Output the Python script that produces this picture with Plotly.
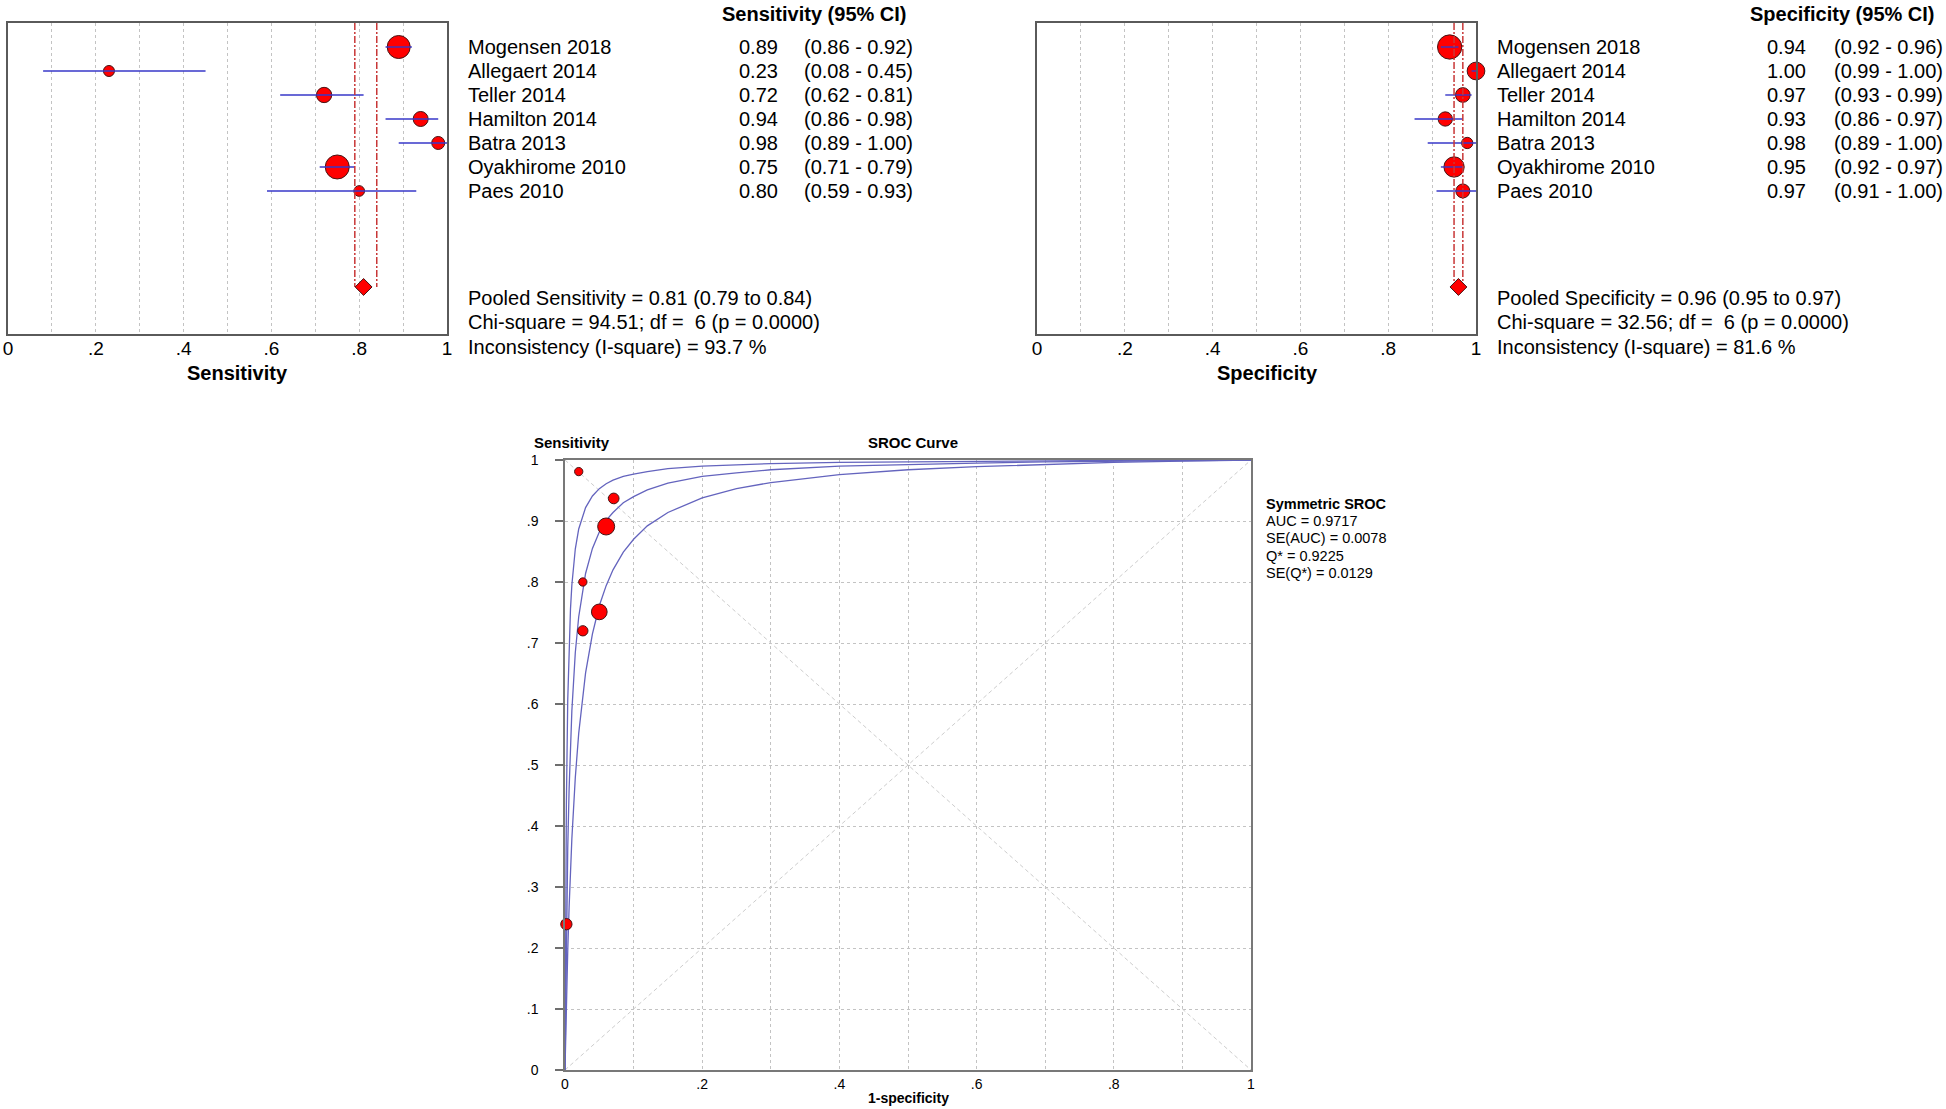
import plotly.graph_objects as go

# ---------------- data ----------------
studies = ["Mogensen 2018", "Allegaert 2014", "Teller 2014", "Hamilton 2014",
           "Batra 2013", "Oyakhirome 2010", "Paes 2010"]

sens = [0.89, 0.23, 0.72, 0.94, 0.98, 0.75, 0.80]
sens_lo = [0.86, 0.08, 0.62, 0.86, 0.89, 0.71, 0.59]
sens_hi = [0.92, 0.45, 0.81, 0.98, 1.00, 0.79, 0.93]

spec = [0.94, 1.00, 0.97, 0.93, 0.98, 0.95, 0.97]
spec_lo = [0.92, 0.99, 0.93, 0.86, 0.89, 0.92, 0.91]
spec_hi = [0.96, 1.00, 0.99, 0.97, 1.00, 0.97, 1.00]

pooled_sens = [0.81, 0.79, 0.84]          # estimate, lower, upper
pooled_spec = [0.96, 0.95, 0.97]
sens_stats = ["Pooled Sensitivity = 0.81 (0.79 to 0.84)",
              "Chi-square = 94.51; df =\u00a0 6 (p = 0.0000)",
              "Inconsistency (I-square) = 93.7 %"]
spec_stats = ["Pooled Specificity = 0.96 (0.95 to 0.97)",
              "Chi-square = 32.56; df =\u00a0 6 (p = 0.0000)",
              "Inconsistency (I-square) = 81.6 %"]

# SROC study points (1-specificity, sensitivity), continuity-corrected as plotted
sroc_fpr = [0.060, 0.002, 0.026, 0.071, 0.020, 0.050, 0.026]
sroc_tpr = [0.891, 0.239, 0.720, 0.937, 0.981, 0.751, 0.800]

# SROC curves
curve_fpr = [0, 0.001, 0.002, 0.004, 0.006, 0.008, 0.01, 0.015, 0.02, 0.03, 0.04, 0.05,
             0.06, 0.07, 0.085, 0.1, 0.12, 0.15, 0.2, 0.25, 0.3, 0.4, 0.5, 0.6, 0.7,
             0.8, 0.9, 1.0]
curve_mid = [0, 0.124, 0.221, 0.363, 0.461, 0.534, 0.589, 0.684, 0.743, 0.814, 0.855,
             0.882, 0.901, 0.914, 0.930, 0.940, 0.951, 0.962, 0.973, 0.979, 0.984,
             0.990, 0.993, 0.995, 0.997, 0.998, 0.999, 1.0]
curve_upper = [0, 0.278, 0.435, 0.607, 0.699, 0.756, 0.795, 0.854, 0.887, 0.922, 0.941,
               0.953, 0.961, 0.967, 0.973, 0.977, 0.981, 0.986, 0.990, 0.992, 0.994,
               0.996, 0.997, 0.998, 0.999, 0.9993, 0.9997, 1.0]
curve_lower = [0, 0.057, 0.108, 0.195, 0.267, 0.327, 0.379, 0.479, 0.552, 0.651, 0.715,
               0.761, 0.794, 0.820, 0.849, 0.870, 0.892, 0.914, 0.938, 0.953, 0.963,
               0.976, 0.984, 0.989, 0.993, 0.996, 0.998, 1.0]

sroc_stats_title = "Symmetric SROC"
sroc_stats = ["AUC = 0.9717", "SE(AUC) = 0.0078", "Q* = 0.9225", "SE(Q*) = 0.0129"]

forest_ticks = [0, 0.1, 0.2, 0.3, 0.4, 0.5, 0.6, 0.7, 0.8, 0.9, 1.0]
forest_ticktext = ["0", "", ".2", "", ".4", "", ".6", "", ".8", "", "1"]
sroc_xticktext = ["0", "", ".2", "", ".4", "", ".6", "", ".8", "", "1"]
sroc_yticktext = ["0", ".1", ".2", ".3", ".4", ".5", ".6", ".7", ".8", ".9", "1"]

# ---------------- style ----------------
W, H = 1946, 1109
FONT = "Liberation Sans, Arial, sans-serif"
RED = "rgb(255,0,0)"
EDGE = "rgb(70,20,20)"
CI_BLUE = "rgb(55,55,200)"
DASH_RED = "rgb(200,55,55)"
CURVE = "rgb(100,100,190)"
GRID = "rgb(195,195,195)"
FRAME = "rgb(90,90,90)"

sens_marker_d = [24, 12, 16.3, 16, 14, 25, 11.7]
spec_marker_d = [25.3, 18.7, 15.7, 15.3, 12.3, 21.3, 15]
sroc_marker_d = [18, 12.3, 11.3, 11.7, 9.3, 16.7, 9.3]

POOLED_ROW = 11


def px_x(x):
    return x / W


def px_y(y):
    return 1 - y / H


fig = go.Figure()


def forest(xa, ya, est, lo, hi, pooled, sizes):
    rows = list(range(1, len(est) + 1))
    # study markers
    fig.add_trace(go.Scatter(
        x=est, y=rows, mode="markers", xaxis=xa, yaxis=ya, cliponaxis=False,
        marker=dict(color=RED, opacity=1, size=[s - 1 for s in sizes],
                    line=dict(color=EDGE, width=1)),
        hoverinfo="skip", showlegend=False))
    # CI lines (drawn over markers)
    xs, ys = [], []
    for r, a, b in zip(rows, lo, hi):
        xs += [a, b, None]
        ys += [r, r, None]
    fig.add_trace(go.Scatter(x=xs, y=ys, mode="lines", xaxis=xa, yaxis=ya,
                             line=dict(color=CI_BLUE, width=1.4),
                             hoverinfo="skip", showlegend=False))
    # pooled CI dashed verticals
    for v in pooled[1:]:
        fig.add_trace(go.Scatter(x=[v, v], y=[0, POOLED_ROW], mode="lines", xaxis=xa, yaxis=ya,
                                 line=dict(color=DASH_RED, width=1.5, dash="7px,2px,2px,2px"),
                                 hoverinfo="skip", showlegend=False))
    # pooled diamond
    fig.add_trace(go.Scatter(x=[pooled[0]], y=[POOLED_ROW], mode="markers", xaxis=xa, yaxis=ya,
                             cliponaxis=False,
                             marker=dict(symbol="diamond", color=RED, opacity=1, size=13,
                                         line=dict(color=EDGE, width=1)),
                             hoverinfo="skip", showlegend=False))


forest("x", "y", sens, sens_lo, sens_hi, pooled_sens, sens_marker_d)
forest("x2", "y2", spec, spec_lo, spec_hi, pooled_spec, spec_marker_d)

# ---------------- SROC ----------------
rng = [0, 1]
fig.add_trace(go.Scatter(x=rng, y=rng, mode="lines", xaxis="x3", yaxis="y3",
                         line=dict(color="rgb(205,205,205)", width=1, dash="4px,3px"),
                         hoverinfo="skip", showlegend=False))
fig.add_trace(go.Scatter(x=rng, y=rng[::-1], mode="lines", xaxis="x3", yaxis="y3",
                         line=dict(color="rgb(205,205,205)", width=1, dash="4px,3px"),
                         hoverinfo="skip", showlegend=False))
for c in (curve_upper, curve_mid, curve_lower):
    fig.add_trace(go.Scatter(x=curve_fpr, y=c, mode="lines", xaxis="x3", yaxis="y3",
                             line=dict(color=CURVE, width=1.3),
                             hoverinfo="skip", showlegend=False))
fig.add_trace(go.Scatter(x=sroc_fpr, y=sroc_tpr, mode="markers", xaxis="x3", yaxis="y3",
                         cliponaxis=False,
                         marker=dict(color=RED, opacity=1, size=[s - 1 for s in sroc_marker_d],
                                     line=dict(color=EDGE, width=1)),
                         hoverinfo="skip", showlegend=False))

# ---------------- axes ----------------
forest_x = dict(range=[0, 1], tickvals=forest_ticks, ticktext=forest_ticktext,
                showgrid=True, gridcolor=GRID, griddash="dot", gridwidth=1,
                zeroline=False, showline=True, mirror=True, linecolor=FRAME, linewidth=1.5,
                ticks="", ticklabelstandoff=-4, automargin=False,
                tickfont=dict(size=19, family=FONT, color="black"), fixedrange=True)
forest_y = dict(range=[12.96, 0], showgrid=False, zeroline=False, showticklabels=False,
                showline=True, mirror=True, linecolor=FRAME, linewidth=1.5, ticks="",
                automargin=False, fixedrange=True)

fy = [px_y(334), px_y(23)]
sroc_common = dict(range=rng, tickvals=forest_ticks, showgrid=True, gridcolor=GRID,
                   griddash="dot", gridwidth=1, zeroline=False, showline=True, mirror=True,
                   linecolor="rgb(120,120,120)", linewidth=1.5, automargin=False,
                   tickfont=dict(size=14, family=FONT, color="black"), fixedrange=True)

fig.update_layout(
    template="none",
    width=W, height=H, autosize=False,
    margin=dict(l=0, r=0, t=0, b=0, pad=0),
    paper_bgcolor="white", plot_bgcolor="white",
    font=dict(family=FONT, color="black"),
    xaxis=dict(domain=[px_x(8), px_x(447)], anchor="y", **forest_x),
    yaxis=dict(domain=fy, anchor="x", **forest_y),
    xaxis2=dict(domain=[px_x(1037), px_x(1476)], anchor="y2", **forest_x),
    yaxis2=dict(domain=fy, anchor="x2", **forest_y),
    xaxis3=dict(domain=[px_x(565), px_x(1251)], anchor="y3", ticktext=sroc_xticktext,
                ticks="", ticklabelstandoff=0, **sroc_common),
    yaxis3=dict(domain=[px_y(1070), px_y(460)], anchor="x3", ticktext=sroc_yticktext,
                ticks="outside", ticklen=8, tickcolor="rgb(110,110,110)", tickwidth=1.5,
                ticklabelstandoff=14, **sroc_common),
)

anns = []


def ann(x, y, text, size, xanchor="left", bold=False, yref="paper"):
    anns.append(dict(
        x=px_x(x), y=(y if yref != "paper" else px_y(y)), xref="paper", yref=yref,
        text=("<b>%s</b>" % text) if bold else text, showarrow=False,
        xanchor=xanchor, yanchor="middle",
        font=dict(size=size, family=FONT, color="black")))


def table(yref, x_name, x_val, x_ci, x_head, head, est, lo, hi, stats):
    ann(x_head, 14, head, 20, xanchor="right", bold=True)
    for i, (s, e, a, b) in enumerate(zip(studies, est, lo, hi)):
        r = i + 1
        ann(x_name, r, s, 20, yref=yref)
        ann(x_val, r, "%.2f" % e, 20, xanchor="right", yref=yref)
        ann(x_ci, r, "(%.2f - %.2f)" % (a, b), 20, yref=yref)
    for k, t in enumerate(stats):
        ann(x_name, 298 + 24.5 * k, t, 20)


table("y", 466, 780, 802, 909, "Sensitivity (95% CI)", sens, sens_lo, sens_hi, sens_stats)
table("y2", 1495, 1808, 1832, 1937, "Specificity (95% CI)", spec, spec_lo, spec_hi, spec_stats)

ann(237, 373, "Sensitivity", 20, xanchor="center", bold=True)
ann(1267, 373, "Specificity", 20, xanchor="center", bold=True)

ann(572, 442, "Sensitivity", 15, xanchor="center", bold=True)
ann(913, 442, "SROC Curve", 15, xanchor="center", bold=True)
ann(908, 1098, "1-specificity", 14, xanchor="center", bold=True)
ann(1264, 504, sroc_stats_title, 14.5, bold=True)
for k, t in enumerate(sroc_stats):
    ann(1264, [521, 538, 556, 573][k], t, 14.5)

fig.update_layout(annotations=anns)

fig.write_html("out.html", config={"displayModeBar": False},
               post_script="document.body.style.margin='0';")
